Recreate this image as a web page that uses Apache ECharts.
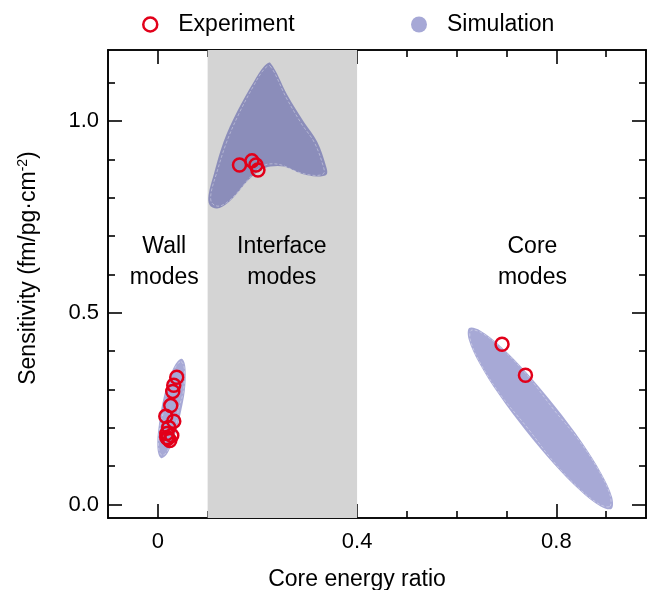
<!DOCTYPE html>
<html>
<head>
<meta charset="utf-8">
<script src="https://cdn.jsdelivr.net/npm/echarts@6/dist/echarts.min.js"></script>
<style>html,body{margin:0;padding:0;background:#fff}#c{width:654px;height:590px}</style>
</head>
<body>
<div id="c"></div>
<script>
// ---- data ----
var xMajorTicks = [0, 0.4, 0.8];
var xMinorTicks = [0.1, 0.2, 0.3, 0.5, 0.6, 0.7, 0.9];
var yMajorTicks = [0, 0.5, 1.0];
var yMinorTicks = [0.1, 0.2, 0.3, 0.4, 0.6, 0.7, 0.8, 0.9, 1.1];
var interfaceBand = [0.1, 0.4];

var expWall = [[0.038,0.332],[0.032,0.311],[0.030,0.295],[0.026,0.258],[0.016,0.230],[0.032,0.217],
               [0.022,0.201],[0.018,0.185],[0.028,0.180],[0.020,0.172],[0.024,0.167],[0.018,0.175]];
var expInterface = [[0.164,0.885],[0.189,0.896],[0.197,0.885],[0.201,0.872]];
var expCore = [[0.691,0.418],[0.738,0.337]];

var simWall = [[0.048,0.380],[0.054,0.368],[0.056,0.338],[0.054,0.295],[0.047,0.245],[0.038,0.197],
               [0.027,0.156],[0.017,0.129],[0.007,0.121],[0.001,0.133],[-0.001,0.163],[0.002,0.206],
               [0.008,0.256],[0.017,0.305],[0.028,0.346],[0.039,0.372]];
var simInterface = [[0.226,1.151],[0.260,1.068],[0.293,0.998],[0.320,0.946],[0.337,0.885],[0.339,0.861],
                    [0.320,0.855],[0.287,0.863],[0.253,0.881],[0.226,0.881],[0.206,0.872],[0.179,0.842],
                    [0.159,0.811],[0.139,0.785],[0.119,0.772],[0.104,0.781],[0.102,0.807],[0.112,0.859],
                    [0.132,0.946],[0.159,1.024],[0.193,1.103],[0.213,1.142]];
var simCore = [[0.911,-0.011],[0.912,0.019],[0.891,0.080],[0.851,0.163],[0.798,0.255],[0.741,0.343],
               [0.688,0.413],[0.647,0.454],[0.625,0.460],[0.624,0.431],[0.645,0.369],[0.685,0.286],
               [0.738,0.194],[0.795,0.106],[0.848,0.036],[0.889,-0.005]];

var regionLabels = ['Wall\nmodes', 'Interface\nmodes', 'Core\nmodes'];
var regionPos = [[0.013,0.632],[0.249,0.632],[0.752,0.632]];

// ---- chart ----
var FONT = 'Liberation Sans, Arial, sans-serif';
var RED = '#e2001a';
var SIM = 'rgba(12,18,140,0.36)';
var TXT = '#000';
var shapes = [simWall, simInterface, simCore];
var expAll = expWall.concat(expInterface, expCore);

var chart = echarts.init(document.getElementById('c'), null, {renderer: 'canvas'});

function xAxisDef(pos, vals, len, showLabel) {
  return {
    type: 'value', position: pos, min: -0.1, max: 0.98,
    axisLine: {show: true, onZero: false, lineStyle: {color: '#000', width: 1.6}},
    axisTick: {show: true, inside: true, length: len, customValues: vals, lineStyle: {color: '#000', width: 1.6}},
    axisLabel: {show: showLabel, customValues: vals, margin: 13, fontSize: 22, fontFamily: FONT, color: TXT,
      formatter: function (v) { return v === 0 ? '0' : String(v); }},
    splitLine: {show: false}
  };
}
function yAxisDef(pos, vals, len, showLabel) {
  return {
    type: 'value', position: pos, min: -0.035, max: 1.185,
    axisLine: {show: true, onZero: false, lineStyle: {color: '#000', width: 1.6}},
    axisTick: {show: true, inside: true, length: len, customValues: vals, lineStyle: {color: '#000', width: 1.6}},
    axisLabel: {show: showLabel, customValues: vals, margin: 9, fontSize: 22, fontFamily: FONT, color: TXT,
      formatter: function (v) { return v.toFixed(1); }},
    splitLine: {show: false}
  };
}

var xAxes = [
  Object.assign(xAxisDef('bottom', xMajorTicks, 14, true), {
    name: 'Core energy ratio', nameLocation: 'middle', nameGap: 50,
    nameTextStyle: {fontSize: 23, fontFamily: FONT, color: TXT, padding: [0, 40, 0, 0]}
  }),
  xAxisDef('bottom', xMinorTicks, 7, false),
  xAxisDef('top', xMajorTicks, 14, false),
  xAxisDef('top', xMinorTicks, 7, false)
];
var yAxes = [
  Object.assign(yAxisDef('left', yMajorTicks, 14, true), {
    name: 'Sensitivity (fm/pg·cm{sup|-2})', nameLocation: 'middle', nameGap: 67,
    nameTextStyle: {fontSize: 23, fontFamily: FONT, color: TXT, padding: [0, 0, 0, 32],
      rich: {sup: {fontSize: 14, fontFamily: FONT, color: TXT, verticalAlign: 'top', padding: [0, 0, 11, 0]}}}
  }),
  yAxisDef('left', yMinorTicks, 7, false),
  yAxisDef('right', yMajorTicks, 14, false),
  yAxisDef('right', yMinorTicks, 7, false)
];

var option = {
  animation: false,
  textStyle: {fontFamily: FONT},
  grid: {left: 108, right: 8, top: 50, bottom: 72, containLabel: false, outerBoundsMode: 'none'},
  legend: [
    {data: [{name: 'Experiment', icon: 'circle', itemStyle: {color: '#fff', borderColor: RED, borderWidth: 2.5}}],
     left: 137, top: 8, itemWidth: 46, itemHeight: 14, textStyle: {fontSize: 23, fontFamily: FONT, color: TXT}},
    {data: [{name: 'Simulation', icon: 'circle', itemStyle: {color: '#a6a8d6'}}],
     left: 406, top: 8, itemWidth: 46, itemHeight: 16, textStyle: {fontSize: 23, fontFamily: FONT, color: TXT}}
  ],
  xAxis: xAxes,
  yAxis: yAxes,
  series: [
    {
      name: 'band', type: 'scatter', data: [], z: 1, silent: true,
      markArea: {silent: true, itemStyle: {color: '#d4d4d4'},
        data: [[{xAxis: interfaceBand[0]}, {xAxis: interfaceBand[1]}]]}
    },
    {
      name: 'Simulation', type: 'custom', z: 2, silent: true,
      data: shapes.map(function (s, i) { return [s[0][0], s[0][1], i]; }),
      encode: {x: 0, y: 1},
      renderItem: function (params, api) {
        var idx = api.value(2);
        var pts = shapes[idx].map(function (p) { return api.coord(p); });
        var cx = 0, cy = 0;
        pts.forEach(function (p) { cx += p[0]; cy += p[1]; });
        cx /= pts.length; cy /= pts.length;
        var inner = pts.map(function (p) {
          var dx = p[0] - cx, dy = p[1] - cy, d = Math.sqrt(dx * dx + dy * dy) || 1;
          var k = Math.max(0, (d - 3) / d);
          return [cx + dx * k, cy + dy * k];
        });
        return {
          type: 'group',
          children: [
            {type: 'polygon', shape: {points: pts, smooth: 0.35}, style: {fill: SIM, stroke: null}},
            {type: 'polygon', shape: {points: inner, smooth: 0.35},
             style: {fill: null, stroke: 'rgba(255,255,255,0.45)', lineWidth: 0.8, lineDash: [3, 2]}}
          ]
        };
      }
    },
    {
      name: 'Experiment', type: 'scatter', z: 5, silent: true,
      symbol: 'circle', symbolSize: 13,
      itemStyle: {color: 'rgba(255,255,255,0)', borderColor: RED, borderWidth: 2.5, opacity: 1},
      data: expAll
    },
    {
      name: 'labels', type: 'scatter', z: 6, silent: true, symbolSize: 0,
      itemStyle: {opacity: 1},
      data: regionPos.map(function (p, i) { return {value: p, name: regionLabels[i]}; }),
      label: {show: true, position: 'inside', formatter: function (p) { return p.name; },
        fontSize: 23, lineHeight: 31, fontFamily: FONT, color: TXT, opacity: 1, align: 'center', verticalAlign: 'middle'}
    }
  ]
};
chart.setOption(option);
</script>
</body>
</html>
